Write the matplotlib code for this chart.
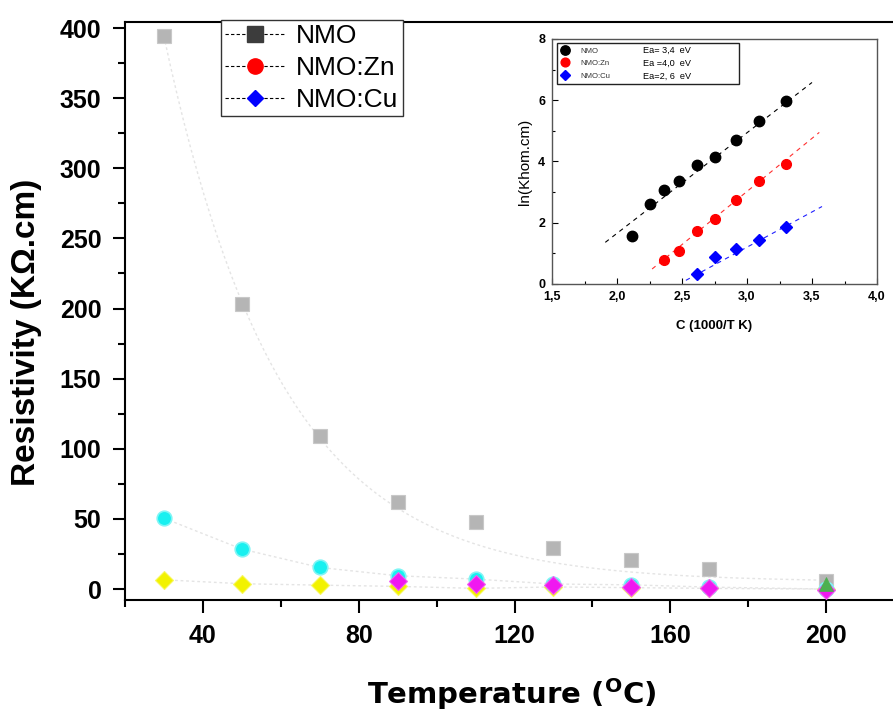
import numpy as np
import matplotlib
matplotlib.use("Agg")
import matplotlib.pyplot as plt
from matplotlib.lines import Line2D
from matplotlib.ticker import MultipleLocator, FuncFormatter

# ---------------- data (main plot) ----------------
temps = [30, 50, 70, 90, 110, 130, 150, 170, 200]
nmo_gray = [394, 203, 109, 62, 48, 29, 21, 14, 5.5]
cyan_vals = [50.5, 28.5, 15.4, 9.5, 7.1, 3.6, 3.0, 1.4, 0.0]
yellow_vals = [6.6, 3.8, 2.8, 1.9, 0.5, 1.5, 1.0, 0.5, 0.0]
magenta_temps = [90, 110, 130, 150, 170, 200]
magenta_vals = [5.5, 3.8, 2.6, 1.4, 0.7, -0.5]
green_temps = [200]
green_vals = [3.8]
# faint exponential-decay fit drawn through the gray points: y0 + A*exp(-(T-T0)/t)
fit_y0, fit_A, fit_T0, fit_t = 5.0, 389.0, 30.0, 30.0
fit_range = [30, 200]

legend_labels = ["NMO", "NMO:Zn", "NMO:Cu"]

# ---------------- data (inset) ----------------
inset_nmo_x = [2.115, 2.256, 2.362, 2.479, 2.615, 2.756, 2.918, 3.095, 3.300]
inset_nmo_y = [1.58, 2.62, 3.08, 3.37, 3.89, 4.14, 4.70, 5.33, 5.99]
inset_zn_x = [2.362, 2.479, 2.615, 2.756, 2.918, 3.095, 3.300]
inset_zn_y = [0.77, 1.09, 1.73, 2.12, 2.75, 3.36, 3.93]
inset_cu_x = [2.615, 2.756, 2.918, 3.095, 3.300]
inset_cu_y = [0.33, 0.88, 1.15, 1.43, 1.87]
fit_nmo_x = [1.91, 3.50]
fit_nmo_y = [1.36, 6.58]
fit_zn_x = [2.27, 3.556]
fit_zn_y = [0.49, 4.95]
fit_cu_x = [2.53, 3.577]
fit_cu_y = [0.12, 2.53]
ea_labels = ["Ea= 3,4  eV", "Ea =4,0  eV", "Ea=2, 6  eV"]

W, H = 893, 715
fig = plt.figure(figsize=(W / 100, H / 100), dpi=100)

# main axes in pixel terms
L, R, T, B = 125, 904, 22, 600
ax = fig.add_axes([L / W, 1 - B / H, (R - L) / W, (B - T) / H])
ax.set_xlim(20, 220)
ax.set_ylim(-7.8, 404.3)

faint = dict(color="#e4e4e4", lw=1.0, ls=(0, (2, 2)), zorder=1)
Tf = np.linspace(fit_range[0], fit_range[1], 200)
ax.plot(Tf, fit_y0 + fit_A * np.exp(-(Tf - fit_T0) / fit_t), **faint)
ax.plot(temps, cyan_vals, **faint)
ax.plot(temps, yellow_vals, **faint)

ax.plot(temps, nmo_gray, ls="none", marker="s", ms=10.5, mfc="#b5b5b5",
        mec="#c8c8c8", mew=0.8, zorder=3)
ax.plot(temps, yellow_vals, ls="none", marker="D", ms=9.5, mfc="#f2f200",
        mec="#f7f760", mew=0.8, zorder=4)
ax.plot(temps, cyan_vals, ls="none", marker="o", ms=10.5, mfc="#18f0f0",
        mec="#7ff5f5", mew=1.2, zorder=5)
ax.plot(magenta_temps, magenta_vals, ls="none", marker="D", ms=9, mfc="#f018f0",
        mec="#f060f0", mew=0.8, zorder=6)
ax.plot(green_temps, green_vals, ls="none", marker="^", ms=10, mfc="#4cb050",
        mec="#4cb050", mew=0.5, zorder=7)

ax.xaxis.set_major_locator(MultipleLocator(40))
ax.xaxis.set_minor_locator(MultipleLocator(20))
ax.yaxis.set_major_locator(MultipleLocator(50))
ax.yaxis.set_minor_locator(MultipleLocator(25))
ax.set_xticks([40, 80, 120, 160, 200])
ax.tick_params(which="major", direction="out", length=9, width=1.5, pad=8)
ax.tick_params(which="minor", direction="out", length=5, width=1.5)
for lab in ax.get_xticklabels() + ax.get_yticklabels():
    lab.set_fontfamily("Liberation Sans")
    lab.set_fontweight("bold")
    lab.set_fontsize(18)
for sp in ax.spines.values():
    sp.set_linewidth(1.5)

fig.text(27 / W, 1 - 332 / H, "Resistivity (K\u03a9.cm)", rotation=90,
         ha="center", va="center", fontsize=24, fontweight="bold",
         family="Liberation Sans")
fig.text(512 / W, 1 - 694 / H, r"Temperature ($\mathbf{^{O}}$C)",
         ha="center", va="center", fontsize=21, fontweight="bold",
         family="DejaVu Sans")

handles = [
    Line2D([], [], color="black", lw=0.8, ls=(0, (3, 2)), marker="s", ms=11,
           mfc="#3c3c3c", mec="#3c3c3c"),
    Line2D([], [], color="black", lw=0.8, ls=(0, (3, 2)), marker="o", ms=11,
           mfc="#ff0000", mec="#ff0000"),
    Line2D([], [], color="black", lw=0.8, ls=(0, (3, 2)), marker="D", ms=8,
           mfc="#0000ff", mec="#0000ff"),
]
leg = fig.legend(handles, legend_labels, loc="upper left",
                 bbox_to_anchor=(221 / W, 1 - 20 / H),
                 prop={"family": "Liberation Sans", "size": 19},
                 frameon=True, fancybox=False, edgecolor="#333333",
                 framealpha=1, borderpad=0.15, handlelength=2.3,
                 handletextpad=0.4, labelspacing=0.3, borderaxespad=0)
leg.get_frame().set_linewidth(1.0)

# ---------------- inset ----------------
iL, iR, iT, iB = 552, 877, 39, 284
ax2 = fig.add_axes([iL / W, 1 - iB / H, (iR - iL) / W, (iB - iT) / H])
ax2.set_xlim(1.5, 4.0)
ax2.set_ylim(0, 8)
ax2.plot(fit_nmo_x, fit_nmo_y, color="black", lw=0.8, ls=(0, (4, 4)))
ax2.plot(fit_zn_x, fit_zn_y, color="#ff3030", lw=0.8, ls=(0, (4, 4)))
ax2.plot(fit_cu_x, fit_cu_y, color="#2020ff", lw=0.8, ls=(0, (4, 4)))
h1, = ax2.plot(inset_nmo_x, inset_nmo_y, ls="none", marker="o", ms=7.5,
               color="black")
h2, = ax2.plot(inset_zn_x, inset_zn_y, ls="none", marker="o", ms=7,
               color="#ff0000")
h3, = ax2.plot(inset_cu_x, inset_cu_y, ls="none", marker="D", ms=6,
               color="#0000ff")

ax2.xaxis.set_major_locator(MultipleLocator(0.5))
ax2.xaxis.set_minor_locator(MultipleLocator(0.25))
ax2.yaxis.set_major_locator(MultipleLocator(2))
ax2.yaxis.set_minor_locator(MultipleLocator(1))
ax2.xaxis.set_major_formatter(FuncFormatter(lambda v, p: f"{v:.1f}".replace(".", ",")))
ax2.yaxis.set_major_formatter(FuncFormatter(lambda v, p: f"{v:.0f}"))
ax2.tick_params(which="major", direction="in", length=4, width=0.8, pad=5)
ax2.tick_params(which="minor", direction="in", length=2, width=0.8)
for lab in ax2.get_xticklabels() + ax2.get_yticklabels():
    lab.set_fontfamily("Liberation Sans")
    lab.set_fontweight("bold")
    lab.set_fontsize(9)
for sp in ax2.spines.values():
    sp.set_linewidth(1.0)
    sp.set_color("#555555")
ax2.set_xlabel("C (1000/T K)", fontsize=9.5, fontweight="bold",
               family="Liberation Sans", labelpad=12)
ax2.set_ylabel("ln(Khom.cm)", fontsize=11, family="Liberation Sans",
               labelpad=4)

blank = Line2D([], [], ls="none")
leg2 = ax2.legend([h1, h2, h3, blank, blank, blank],
                  legend_labels + [s + "                  " for s in ea_labels],
                  ncol=2, loc="upper left",
                  bbox_to_anchor=(5 / (iR - iL), 1 - 4 / (iB - iT)),
                  prop={"family": "Liberation Sans", "size": 6.6},
                  frameon=True, fancybox=False, edgecolor="#222222",
                  framealpha=1, borderpad=0.3, handlelength=1.2,
                  handletextpad=1.0, labelspacing=0.45, columnspacing=1.4,
                  markerscale=0.9, borderaxespad=0)
leg2.get_frame().set_linewidth(1.0)
for t in leg2.get_texts()[:3]:
    t.set_color("#333333")
    t.set_fontsize(5.6)

fig.savefig("out.png", dpi=100)
